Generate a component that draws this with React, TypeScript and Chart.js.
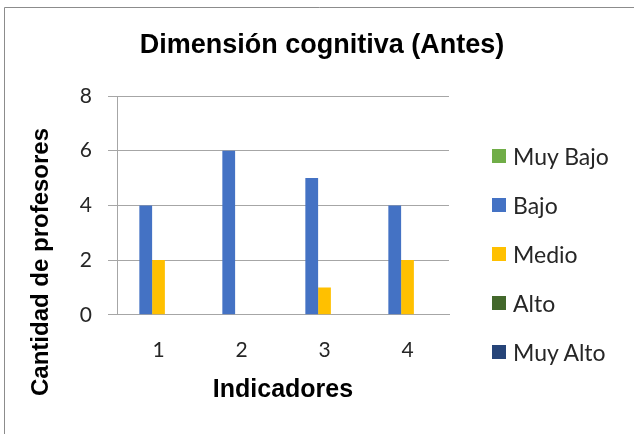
import React, { useEffect, useRef } from "react";
import { Chart, registerables } from "chart.js";

Chart.register(...registerables);

const TITLE = "Dimensión cognitiva (Antes)";
const X_TITLE = "Indicadores";
const Y_TITLE = "Cantidad de profesores";

const categories = ["1", "2", "3", "4"];
const seriesNames = ["Muy Bajo", "Bajo", "Medio", "Alto", "Muy Alto"];
const muyBajo = [0, 0, 0, 0];
const bajo = [4, 6, 5, 4];
const medio = [2, 0, 1, 2];
const alto = [0, 0, 0, 0];
const muyAlto = [0, 0, 0, 0];
const seriesColors = ["#70AD47", "#4472C4", "#FFC000", "#43682B", "#264478"];
const yMin = 0;
const yMax = 8;
const yStep = 2;

const HEAD = "'Liberation Sans', Arial, sans-serif";
const BODY = "Lato, 'Open Sans', sans-serif";

const framePlugin = {
  id: "frame",
  beforeDraw(chart: any) {
    const ctx = chart.ctx;
    ctx.save();
    ctx.fillStyle = "#ffffff";
    ctx.fillRect(0, 0, chart.width, chart.height);
    ctx.strokeStyle = "#8C8C8C";
    ctx.lineWidth = 1;
    ctx.beginPath();
    ctx.moveTo(4.5, chart.height);
    ctx.lineTo(4.5, 7.5);
    ctx.lineTo(chart.width, 7.5);
    ctx.stroke();
    ctx.restore();
  },
  afterDraw(chart: any) {
    const ctx = chart.ctx;
    ctx.save();
    ctx.translate(41, 262);
    ctx.rotate(-Math.PI / 2);
    ctx.textAlign = "center";
    ctx.textBaseline = "middle";
    ctx.fillStyle = "#000000";
    ctx.font = `bold 24px ${HEAD}`;
    ctx.fillText(Y_TITLE, 0, 0);
    ctx.restore();
  },
};

export default function App() {
  const ref = useRef<HTMLCanvasElement | null>(null);

  useEffect(() => {
    if (!ref.current) return;
    const values = [muyBajo, bajo, medio, alto, muyAlto];
    const chart = new Chart(ref.current, {
      type: "bar",
      data: {
        labels: categories,
        datasets: seriesNames.map((name, i) => ({
          label: name,
          data: values[i],
          backgroundColor: seriesColors[i],
          borderWidth: 0,
          categoryPercentage: 5 / 6.5,
          barPercentage: 1,
        })),
      },
      options: {
        responsive: false,
        animation: false,
        devicePixelRatio: 1,
        layout: { padding: { left: 10, right: 0, top: 0, bottom: 29 } },
        plugins: {
          title: {
            display: true,
            text: TITLE,
            color: "#000000",
            font: { family: HEAD, size: 27, weight: "bold" },
            padding: { top: 29.8, bottom: 33.8 },
          },
          legend: { display: false },
          tooltip: { enabled: false },
        },
        scales: {
          x: {
            grid: { display: false, drawTicks: false },
            border: { display: true, color: "#A6A6A6" },
            ticks: { color: "#262626", font: { family: BODY, size: 21 }, padding: 23 },
            title: {
              display: true,
              text: X_TITLE,
              color: "#000000",
              font: { family: HEAD, size: 25, weight: "bold" },
              padding: { top: -11, bottom: 0 },
            },
          },
          y: {
            min: yMin,
            max: yMax,
            ticks: { stepSize: yStep, padding: 16, color: "#262626", font: { family: BODY, size: 21 } },
            grid: { color: "#A6A6A6", tickLength: 9, drawTicks: true },
            border: { display: true, color: "#A6A6A6" },
            afterFit: (s: any) => {
              s.width = 107;
            },
          },
          legendSpace: {
            type: "linear",
            position: "right",
            display: true,
            grid: { display: false, drawTicks: false },
            ticks: { display: false },
            border: { display: false },
            afterFit: (s: any) => {
              s.width = 185;
            },
          },
        },
      },
      plugins: [framePlugin],
    } as any);
    return () => chart.destroy();
  }, []);

  return (
    <div style={{ position: "absolute", left: 0, top: 0, width: 634, height: 434, overflow: "hidden" }}>
      <canvas ref={ref} width={634} height={434} style={{ display: "block" }} />
      <div style={{ position: "absolute", left: 492, top: 131.5, fontFamily: BODY, fontSize: 23, color: "#262626" }}>
        {seriesNames.map((name, i) => (
          <div key={name} style={{ display: "flex", alignItems: "center", height: 49, whiteSpace: "nowrap" }}>
            <span style={{ display: "inline-block", width: 14, height: 14, background: seriesColors[i], marginRight: 7 }} />
            <span>{name}</span>
          </div>
        ))}
      </div>
    </div>
  );
}
